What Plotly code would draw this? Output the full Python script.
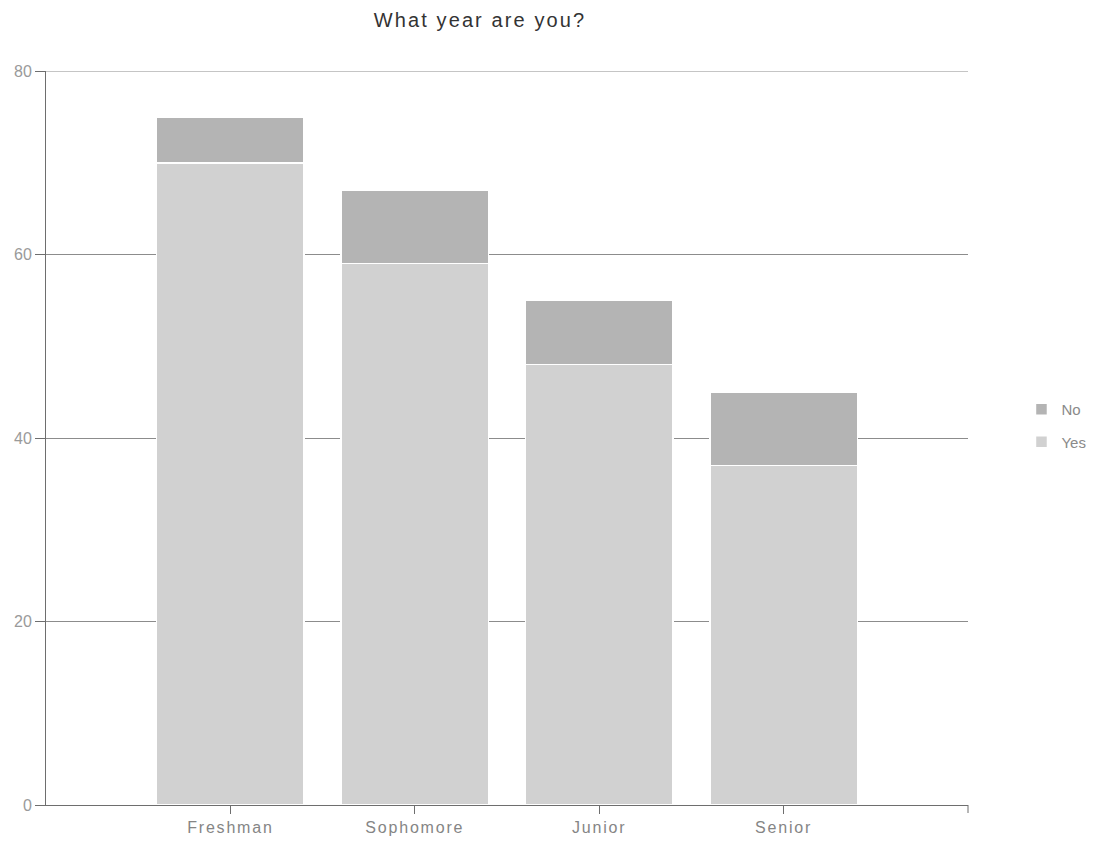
import plotly.graph_objects as go

# Survey responses by class year
years = ["Freshman", "Sophomore", "Junior", "Senior"]
yes_counts = [70, 59, 48, 37]
no_counts = [5, 8, 7, 8]
y_ticks = [0, 20, 40, 60, 80]

GRID = "#8c8c8c"
AXIS = "#6e6e6e"


def spaced(text, px):
    return f'<span style="letter-spacing:{px}px">{text}</span>'


fig = go.Figure()
fig.add_trace(go.Bar(
    x=years, y=yes_counts, name="Yes", legendgroup="yes", legendrank=2,
    marker=dict(color="#d1d1d1", line=dict(color="white", width=1.5)),
    width=0.8,
))
fig.add_trace(go.Bar(
    x=years, y=no_counts, name="No", legendgroup="no", legendrank=1,
    marker=dict(color="#b4b4b4", line=dict(color="white", width=1.5)),
    width=0.8,
))

fig.update_layout(
    barmode="stack",
    width=1098, height=842,
    margin=dict(l=46, r=130, t=71, b=37, autoexpand=False),
    paper_bgcolor="white", plot_bgcolor="white",
    font=dict(family="Liberation Sans, Arial, sans-serif", color="#7a7a7a", size=13),
    title=dict(
        text=spaced("What year are you?", 2.1),
        x=480 / 1098, xanchor="center", xref="container",
        y=1 - 20 / 842, yanchor="middle", yref="container",
        font=dict(size=20, color="#333333"),
    ),
    legend=dict(
        x=1.058, xanchor="left", y=0.517, yanchor="middle",
        traceorder="grouped", tracegroupgap=10,
        font=dict(size=15, color="#8a8a8a"),
    ),
    shapes=[
        # top gridline at 80
        dict(type="line", xref="paper", yref="y", x0=0, x1=1, y0=80, y1=80,
             line=dict(color=GRID, width=1), layer="below"),
        # closing tick at the right end of the category axis
        dict(type="line", xref="paper", yref="paper", ysizemode="pixel",
             yanchor=0, x0=1, x1=1, y0=0, y1=-8,
             line=dict(color=AXIS, width=1)),
    ],
)

fig.update_xaxes(
    type="category",
    range=[-1.0, 4.0],
    tickvals=years,
    ticktext=[spaced(y, 1.8) for y in years],
    showline=True, linecolor=AXIS, linewidth=1,
    ticks="outside", ticklen=8, tickcolor=AXIS,
    showgrid=False, automargin=False,
    tickfont=dict(size=16, color="#858585"),
)
fig.update_yaxes(
    range=[0, 80],
    tickvals=y_ticks,
    showline=True, linecolor=AXIS, linewidth=1,
    ticks="outside", ticklen=10, tickcolor=AXIS,
    showgrid=True, gridcolor=GRID, gridwidth=1,
    zeroline=False, automargin=False,
    tickfont=dict(size=16, color="#9a9a9a"),
)

fig.write_html("out.html")
